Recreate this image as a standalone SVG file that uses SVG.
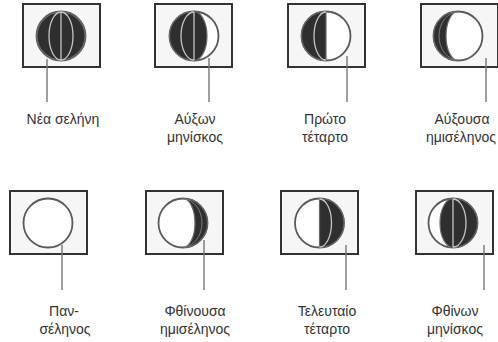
<svg xmlns="http://www.w3.org/2000/svg" xmlns:xlink="http://www.w3.org/1999/xlink" width="498" height="342" viewBox="0 0 498 342">
  <style>
    .frame { fill: #f6f6f6; stroke: #333; stroke-width: 2; }
    .disc { fill: #fff; stroke: #5a5a5a; stroke-width: 1.8; }
    .dark { fill: #2f2f2f; stroke: #6a6a6a; stroke-width: 1.2; }
    .meridian { fill: none; stroke: #c4c4c4; stroke-width: 1.3; }
    .rim { fill: none; stroke: #7a7a7a; stroke-width: 1; }
    .lead { stroke: #777; stroke-width: 1.4; }
    .lbl { font-family: "Liberation Sans", Arial, sans-serif; font-size: 14px; fill: #333; text-anchor: middle; }
  </style>
  <defs>
    <!-- all moon faces are drawn around (0,0) with radius 24.5 -->
    <g id="new-moon">
      <circle class="disc" r="24.5"/>
      <circle class="dark" r="24" />
      <ellipse class="meridian" rx="12" ry="24"/>
      <line class="meridian" x1="0" y1="-24" x2="0" y2="24"/>
    </g>
    <g id="crescent">
      <circle class="disc" r="24.5"/>
      <path class="dark" d="M0,-24.5 A24.5,24.5 0 0 0 0,24.5 A13,24.5 0 0 0 0,-24.5 Z"/>
      <path class="meridian" d="M0,-24 A13,24 0 0 0 0,24"/>
      <line class="meridian" x1="0" y1="-24" x2="0" y2="24"/>
    </g>
    <g id="quarter">
      <circle class="disc" r="24.5"/>
      <path class="dark" d="M0,-24.5 A24.5,24.5 0 0 0 0,24.5 Z"/>
      <path class="meridian" d="M0,-24 A12,24 0 0 0 0,24"/>
    </g>
    <g id="gibbous">
      <circle class="disc" r="24.5"/>
      <path class="dark" d="M0,-24.5 A24.5,24.5 0 0 0 0,24.5 A12,24.5 0 0 1 0,-24.5 Z"/>
      <path class="rim" d="M0,-24 A19,24 0 0 0 0,24"/>
    </g>
    <g id="full-moon">
      <circle class="disc" r="24.5"/>
    </g>
  </defs>

  <!-- top row: waxing phases -->
  <g id="phase-new">
    <rect class="frame" x="23" y="4" width="77" height="63"/>
    <use xlink:href="#new-moon" href="#new-moon" transform="translate(61,36)"/>
    <text class="lbl" x="63" y="124">Νέα σελήνη</text>
  </g>
  <g id="phase-waxing-crescent">
    <rect class="frame" x="155" y="4" width="77" height="63"/>
    <use xlink:href="#crescent" href="#crescent" transform="translate(194,36)"/>
    <text class="lbl" x="195" y="124">Αύξων</text>
    <text class="lbl" x="195" y="142">μηνίσκος</text>
  </g>
  <g id="phase-first-quarter">
    <rect class="frame" x="288" y="4" width="77" height="63"/>
    <use xlink:href="#quarter" href="#quarter" transform="translate(326,36)"/>
    <text class="lbl" x="325" y="124">Πρώτο</text>
    <text class="lbl" x="325" y="142">τέταρτο</text>
  </g>
  <g id="phase-waxing-gibbous">
    <rect class="frame" x="421" y="4" width="77" height="63"/>
    <use xlink:href="#gibbous" href="#gibbous" transform="translate(458,36)"/>
    <text class="lbl" x="462" y="124">Αύξουσα</text>
    <text class="lbl" x="461" y="142">ημισέληνος</text>
  </g>

  <!-- bottom row: waning phases (mirrored faces) -->
  <g id="phase-full">
    <rect class="frame" x="10" y="191" width="77" height="63"/>
    <use xlink:href="#full-moon" href="#full-moon" transform="translate(48,223)"/>
    <text class="lbl" x="64" y="316">Παν-</text>
    <text class="lbl" x="65" y="334">σέληνος</text>
  </g>
  <g id="phase-waning-gibbous">
    <rect class="frame" x="146" y="191" width="77" height="63"/>
    <use xlink:href="#gibbous" href="#gibbous" transform="translate(183,223) scale(-1,1)"/>
    <text class="lbl" x="195" y="316">Φθίνουσα</text>
    <text class="lbl" x="195" y="334">ημισέληνος</text>
  </g>
  <g id="phase-last-quarter">
    <rect class="frame" x="281" y="191" width="77" height="63"/>
    <use xlink:href="#quarter" href="#quarter" transform="translate(319.5,223) scale(-1,1)"/>
    <text class="lbl" x="327" y="316">Τελευταίο</text>
    <text class="lbl" x="327" y="334">τέταρτο</text>
  </g>
  <g id="phase-waning-crescent">
    <rect class="frame" x="416" y="191" width="77" height="63"/>
    <use xlink:href="#crescent" href="#crescent" transform="translate(453,223) scale(-1,1)"/>
    <text class="lbl" x="455" y="316">Φθίνων</text>
    <text class="lbl" x="455" y="334">μηνίσκος</text>
  </g>

  <!-- leader lines from each face down to its caption -->
  <g id="connectors">
    <line class="lead" x1="47" y1="59" x2="47" y2="102"/>
    <line class="lead" x1="209" y1="58" x2="209" y2="102"/>
    <line class="lead" x1="347" y1="56" x2="347" y2="102"/>
    <line class="lead" x1="486" y1="58" x2="486" y2="102"/>
    <line class="lead" x1="62" y1="245" x2="62" y2="290"/>
    <line class="lead" x1="204" y1="240" x2="204" y2="290"/>
    <line class="lead" x1="346" y1="245" x2="346" y2="290"/>
    <line class="lead" x1="484" y1="245" x2="484" y2="290"/>
  </g>
</svg>
